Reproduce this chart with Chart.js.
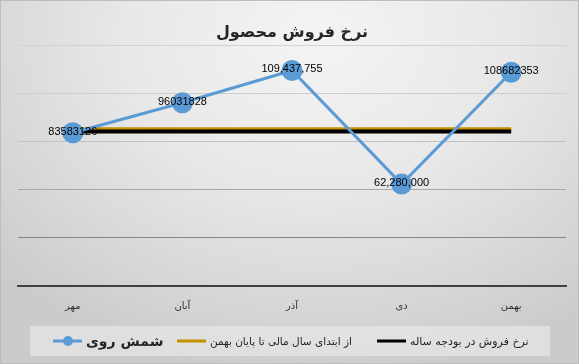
<!DOCTYPE html>
<html>
<head>
<meta charset="utf-8">
<script src="https://cdn.jsdelivr.net/npm/chart.js@4.4.1/dist/chart.umd.min.js"></script>
<style>
  html, body { margin: 0; padding: 0; background: #ffffff; }
  #wrap {
    position: relative; width: 579px; height: 364px; box-sizing: border-box;
    border: 1px solid #bdbdbd;
    background: radial-gradient(ellipse 75% 95% at 55% 10%, #f4f4f4 0%, #e8e8e8 45%, #d6d6d6 80%, #cbcbcb 100%);
  }
  canvas { display: block; }
</style>
</head>
<body>
<div id="wrap"><canvas id="c"></canvas></div>
<script>
// ---- data ----
const categories = ['مهر', 'آبان', 'آذر', 'دی', 'بهمن'];
const zincValues = [83583126, 96031828, 109437755, 62280000, 108682353];
const zincLabels = ['83583126', '96031828', '109,437,755', '62,280,000', '108682353'];
const ytdValues = [85000000, 85000000, 85000000, 85000000, 85000000];
const budgetValues = [84100000, 84100000, 84100000, 84100000, 84100000];
const seriesNames = ['شمش روی', 'از ابتدای سال مالی تا پایان بهمن', 'نرخ فروش در بودجه ساله'];
const chartTitle = 'نرخ فروش محصول';
const yMin = 20000000, yMax = 120000000, yStep = 20000000;

const BLUE = '#5b9bd5', GOLD = '#c29000', BLACK = '#000000';
const AR_FONT = '"DejaVu Sans", "Noto Sans", sans-serif';

const labelPlugin = {
  id: 'pointLabels',
  afterDatasetsDraw(chart) {
    const meta = chart.getDatasetMeta(0);
    const ctx = chart.ctx;
    ctx.save();
    ctx.font = '11px "Liberation Sans", Arial, sans-serif';
    ctx.fillStyle = '#000';
    ctx.textAlign = 'center';
    ctx.textBaseline = 'middle';
    meta.data.forEach((pt, i) => {
      ctx.fillText(zincLabels[i], pt.x, pt.y - 1);
    });
    ctx.restore();
  }
};

const legendPlugin = {
  id: 'customLegend',
  afterDraw(chart) {
    const ctx = chart.ctx;
    const W = chart.width, H = chart.height;
    const boxL = 29, boxR = W - 28, boxT = H - 37, boxB = H - 7;
    ctx.save();
    ctx.fillStyle = 'rgba(230,230,230,0.75)';
    ctx.fillRect(boxL, boxT, boxR - boxL, boxB - boxT);
    const cy = (boxT + boxB) / 2;
    const items = [
      { x: 52, color: BLUE, marker: true, font: 'bold 14px ' + AR_FONT },
      { x: 176, color: GOLD, marker: false, font: '10.5px ' + AR_FONT },
      { x: 376, color: BLACK, marker: false, font: '11px ' + AR_FONT }
    ];
    items.forEach((it, i) => {
      ctx.strokeStyle = it.color;
      ctx.lineWidth = 3;
      ctx.beginPath();
      ctx.moveTo(it.x, cy);
      ctx.lineTo(it.x + 29, cy);
      ctx.stroke();
      if (it.marker) {
        ctx.fillStyle = it.color;
        ctx.beginPath();
        ctx.arc(it.x + 15, cy, 5, 0, Math.PI * 2);
        ctx.fill();
      }
      ctx.font = it.font;
      ctx.fillStyle = '#262626';
      ctx.textAlign = 'left';
      ctx.textBaseline = 'middle';
      ctx.fillText(seriesNames[i], it.x + 33, cy + 1);
    });
    ctx.restore();
  }
};

const gridColors = { 120000000: '#d2d2d2', 100000000: '#cecece', 80000000: '#c2c2c2', 60000000: '#a8a8a8', 40000000: '#858585', 20000000: '#404040' };

new Chart(document.getElementById('c'), {
  type: 'line',
  data: {
    labels: categories,
    datasets: [
      {
        label: seriesNames[0], data: zincValues, borderColor: BLUE, backgroundColor: BLUE,
        borderWidth: 3, pointRadius: 10.5, pointBackgroundColor: BLUE, pointBorderWidth: 0,
        tension: 0, order: 0
      },
      {
        label: seriesNames[1], data: ytdValues, borderColor: GOLD, backgroundColor: GOLD,
        borderWidth: 4, pointRadius: 0, tension: 0, order: 2
      },
      {
        label: seriesNames[2], data: budgetValues, borderColor: BLACK, backgroundColor: BLACK,
        borderWidth: 4, pointRadius: 0, tension: 0, order: 1
      }
    ]
  },
  options: {
    responsive: true,
    maintainAspectRatio: false,
    animation: false,
    devicePixelRatio: 1,
    layout: { padding: { left: 17, right: 12, top: 0, bottom: 37 } },
    plugins: {
      legend: { display: false },
      tooltip: { enabled: false },
      title: {
        display: true, text: chartTitle,
        font: { family: AR_FONT, size: 16, weight: 'bold' },
        color: '#262626',
        padding: { top: 22, bottom: 2.8 }
      }
    },
    scales: {
      x: {
        offset: true,
        grid: { display: false, drawTicks: false },
        border: { display: true, color: '#404040', width: 2 },
        ticks: { font: { family: AR_FONT, size: 10 }, color: '#333333', padding: 14 }
      },
      y: {
        min: yMin, max: yMax,
        ticks: { stepSize: yStep, display: false },
        border: { display: false },
        grid: {
          drawTicks: false, tickLength: 0,
          color: (c) => gridColors[c.tick.value] || '#cccccc',
          lineWidth: (c) => c.tick.value === yMin ? 0 : 1
        }
      }
    }
  },
  plugins: [labelPlugin, legendPlugin]
});
</script>
</body>
</html>
